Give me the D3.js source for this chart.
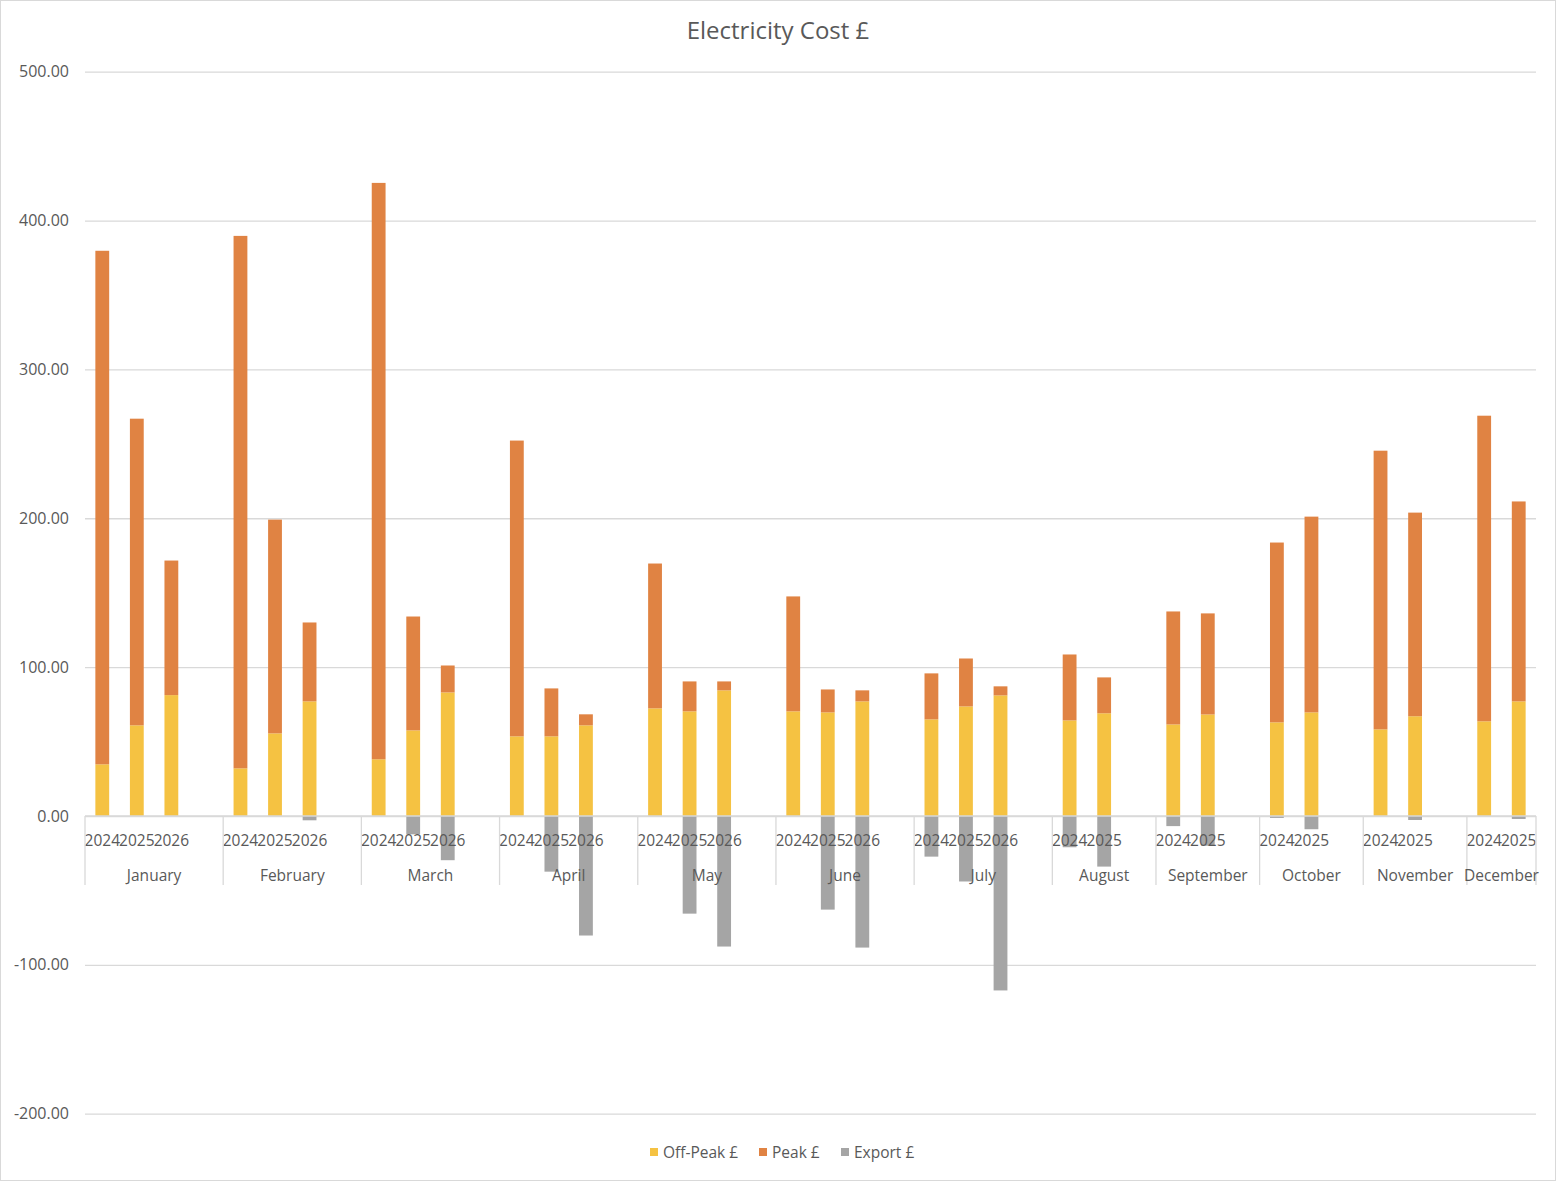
<!DOCTYPE html>
<html>
<head>
<meta charset="utf-8">
<script src="https://cdn.jsdelivr.net/npm/d3@7"></script>
<style>
  body { margin: 0; background: #fff; }
  svg { display: block; font-family: "Open Sans", sans-serif; }
</style>
</head>
<body>
<div id="chart-area"></div>
<script>
// one entry per category slot, blank slots keep the month groups apart
var catMonth = [
	"January","January","January","January",
	"February","February","February","February",
	"March","March","March","March",
	"April","April","April","April",
	"May","May","May","May",
	"June","June","June","June",
	"July","July","July","July",
	"August","August","August",
	"September","September","September",
	"October","October","October",
	"November","November","November",
	"December","December"
];
var catYear = [
	"2024","2025","2026","",
	"2024","2025","2026","",
	"2024","2025","2026","",
	"2024","2025","2026","",
	"2024","2025","2026","",
	"2024","2025","2026","",
	"2024","2025","2026","",
	"2024","2025","",
	"2024","2025","",
	"2024","2025","",
	"2024","2025","",
	"2024","2025"
];
var offPeak = [
	34.7, 60.9, 81.2, null,
	32.0, 55.5, 77.0, null,
	38.1, 57.5, 83.0, null,
	53.5, 53.5, 60.9, null,
	72.3, 70.3, 84.4, null,
	70.3, 69.6, 77.0, null,
	64.9, 73.6, 81.0, null,
	64.2, 69.0, null,
	61.5, 68.2, null,
	62.9, 69.6, null,
	58.2, 67.0, null,
	63.6, 77.0
];
var peak = [
	345.0, 206.0, 90.4, null,
	357.7, 143.6, 53.0, null,
	387.2, 76.5, 18.1, null,
	198.7, 32.2, 7.4, null,
	97.3, 20.1, 6.0, null,
	77.2, 15.4, 7.4, null,
	30.9, 32.2, 6.1, null,
	44.3, 24.1, null,
	75.9, 67.9, null,
	120.8, 131.5, null,
	187.2, 136.8, null,
	205.3, 134.3
];
var exportVals = [
	0, 0, 0, null,
	0, 0, -2.9, null,
	0, -12.3, -29.7, null,
	0, -37.4, -80.3, null,
	0, -65.6, -87.7, null,
	0, -62.9, -88.4, null,
	-27.3, -44.0, -117.2, null,
	-21.0, -34.0, null,
	-6.8, -20.0, null,
	-1.3, -8.9, null,
	0, -2.7, null,
	0, -2.0
];
var seriesNames = ["Off-Peak £", "Peak £", "Export £"];
var seriesColors = ["#F5C242", "#E08343", "#A5A5A5"];
var yTicks = [-200, -100, 0, 100, 200, 300, 400, 500];

var W = 1556, H = 1182;
var margin = {top: 71.7, right: 20, bottom: 68.3, left: 85};
var width = 1536 - margin.left;
var height = 1113.7 - margin.top;

var svg = d3.select("#chart-area")
	.append("svg")
		.attr("width", W)
		.attr("height", H);

// chart border
svg.append("rect")
	.attr("x", 0.5).attr("y", 0.5)
	.attr("width", W - 1).attr("height", H - 2)
	.attr("fill", "none")
	.attr("stroke", "#D9D9D9");

svg.append("text")
	.attr("x", 778)
	.attr("y", 39)
	.attr("text-anchor", "middle")
	.attr("font-size", "24px")
	.style("fill", "#595959")
	.text("Electricity Cost £");

var g = svg.append("g")
	.attr("transform", "translate(" + margin.left + ", " + margin.top + ")");

var idx = d3.range(catYear.length);

var x = d3.scaleBand()
	.domain(idx)
	.range([0, width])
	.paddingInner(0.6)
	.paddingOuter(0.3);

var y = d3.scaleLinear()
	.domain([-200, 500])
	.range([height, 0]);

// gridlines + y labels (plain hyphen for negatives, like the original)
var fmt = d3.format(".2f");
var leftAxis = d3.axisLeft(y)
	.tickValues(yTicks)
	.tickSize(-width)
	.tickFormat(function(d) { return fmt(d).replace("\u2212", "-"); });
var ya = g.append("g")
	.attr("class", "left axis")
	.call(leftAxis);
ya.select(".domain").remove();
ya.selectAll(".tick line")
	.attr("stroke", "#D9D9D9")
	.attr("stroke-width", 1.3);
ya.selectAll(".tick text")
	.attr("x", -16)
	.attr("font-size", "16px")
	.attr("font-family", "Open Sans, sans-serif")
	.style("fill", "#595959");

// stacked bars
var rows = idx.map(function(i) {
	return {i: i, off: offPeak[i] || 0, peak: peak[i] || 0, exp: exportVals[i] || 0};
});
var stack = d3.stack()
	.keys(["off", "peak", "exp"])
	.offset(d3.stackOffsetDiverging);
var layers = stack(rows);

g.selectAll("g.layer")
	.data(layers)
	.enter()
	.append("g")
		.attr("class", "layer")
		.attr("fill", function(d, k) { return seriesColors[k]; })
	.selectAll("rect")
	.data(function(d) { return d.filter(function(p) { return p[1] !== p[0]; }); })
	.enter()
	.append("rect")
		.attr("x", function(d) { return x(d.data.i); })
		.attr("y", function(d) { return y(Math.max(d[0], d[1])); })
		.attr("width", x.bandwidth())
		.attr("height", function(d) { return Math.abs(y(d[0]) - y(d[1])); });

// category axis: years then months
var zeroY = y(0);
var xa = g.append("g")
	.attr("class", "bottom axis")
	.attr("transform", "translate(0, " + zeroY + ")");

xa.append("line")
	.attr("x1", 0).attr("x2", width)
	.attr("stroke", "#D9D9D9")
	.attr("stroke-width", 1.3);

xa.selectAll("text.year")
	.data(idx.filter(function(i) { return catYear[i] !== ""; }))
	.enter()
	.append("text")
		.attr("class", "year")
		.attr("x", function(i) { return x(i) + x.bandwidth() / 2; })
		.attr("y", 30)
		.attr("text-anchor", "middle")
		.attr("font-size", "15.5px")
		.style("fill", "#595959")
		.text(function(i) { return catYear[i]; });

var months = [];
catMonth.forEach(function(m, i) {
	var last = months[months.length - 1];
	if (!last || last.name !== m) months.push({name: m, first: i, last: i});
	else last.last = i;
});
var step = x.step();
var x0 = function(i) { return x(i) - step * x.paddingOuter(); };

xa.selectAll("line.sep")
	.data(months.map(function(m) { return m.first; }).concat([catMonth.length]))
	.enter()
	.append("line")
		.attr("class", "sep")
		.attr("x1", function(i) { return i === catMonth.length ? width : x0(i); })
		.attr("x2", function(i) { return i === catMonth.length ? width : x0(i); })
		.attr("y1", 0)
		.attr("y2", 69)
		.attr("stroke", "#D9D9D9")
		.attr("stroke-width", 1.3);

xa.selectAll("text.month")
	.data(months)
	.enter()
	.append("text")
		.attr("class", "month")
		.attr("x", function(m) { return (x0(m.first) + x0(m.last) + step) / 2; })
		.attr("y", 65)
		.attr("text-anchor", "middle")
		.attr("font-size", "15.5px")
		.style("fill", "#595959")
		.text(function(m) { return m.name; });

// legend
var legendX = [650, 759, 841];
var legend = svg.append("g").attr("class", "legend");
legend.selectAll("rect")
	.data(seriesNames)
	.enter()
	.append("rect")
		.attr("x", function(d, k) { return legendX[k]; })
		.attr("y", 1148)
		.attr("width", 8)
		.attr("height", 8)
		.attr("fill", function(d, k) { return seriesColors[k]; });
legend.selectAll("text")
	.data(seriesNames)
	.enter()
	.append("text")
		.attr("x", function(d, k) { return legendX[k] + 13; })
		.attr("y", 1157.5)
		.attr("font-size", "15.5px")
		.style("fill", "#595959")
		.text(function(d) { return d; });
</script>
</body>
</html>
